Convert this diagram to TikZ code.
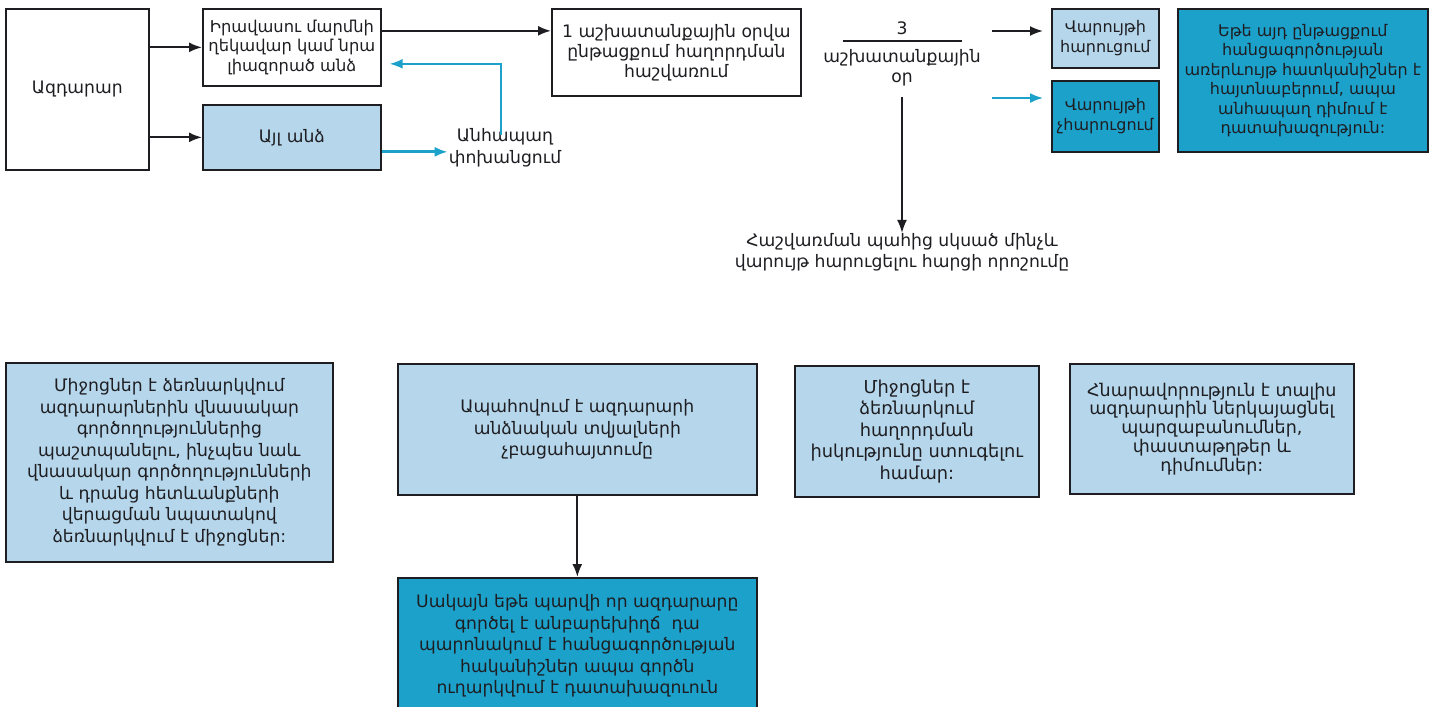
\documentclass[tikz,border=0pt]{standalone}
\usepackage{fontspec}
\setmainfont{DejaVu Sans}
\usetikzlibrary{arrows.meta,calc}
\definecolor{lblue}{HTML}{B6D7EB}
\definecolor{dblue}{HTML}{1CA1CB}
\definecolor{ink}{HTML}{1E1E22}
\definecolor{aqua}{HTML}{1CA1CB}
\begin{document}
\begin{tikzpicture}[x=1pt,y=-1pt,
  every node/.style={font=\fontsize{17.2}{21.5}\selectfont, text=ink, inner sep=0pt},
  box/.style={draw=ink, line width=1.7pt, align=center, anchor=north west},
  wbox/.style={box, fill=white},
  lbox/.style={box, fill=lblue},
  dbox/.style={box, fill=dblue},
  arr/.style={-{Latex[length=13pt,width=10pt]}, line width=2pt, draw=ink},
  barr/.style={-{Latex[length=13pt,width=10pt]}, line width=1.8pt, draw=aqua},
  lbl/.style={align=center}
]
\useasboundingbox (0,0) rectangle (1436,707);
\fill[white] (0,0) rectangle (1436,707);

% top row
\node[wbox, minimum width=143pt, minimum height=161pt] (azd) at (5,8) {Ազդարար};
\node[wbox, minimum width=178pt, minimum height=77pt, font=\fontsize{16.3}{19.5}\selectfont] (head) at (202,8) {Իրավասու մարմնի\\ղեկավար կամ նրա\\լիազորած անձ};
\node[lbox, minimum width=178pt, minimum height=65pt] (other) at (202,104) {Այլ անձ};
\node[lbl] (transfer) at (505,148) {Անհապաղ\\փոխանցում};
\node[wbox, minimum width=249pt, minimum height=87pt, font=\fontsize{17.2}{20}\selectfont] (reg) at (551,8) {1 աշխատանքային օրվա\\ընթացքում հաղորդման\\հաշվառում};

\node[lbl] (three) at (902,28) {3};
\draw[ink, line width=2pt] (843,41) -- (962,41);
\node[lbl, font=\fontsize{17.2}{20}\selectfont] (days) at (902,68) {աշխատանքային\\օր};
\coordinate (cblack) at (992,31);
\coordinate (cblue) at (992,98);

\node[lbox, minimum width=107pt, minimum height=59pt, font=\fontsize{16}{20}\selectfont] (init) at (1051,8) {Վարույթի\\հարուցում};
\node[dbox, minimum width=107pt, minimum height=71pt, font=\fontsize{16}{20}\selectfont] (noinit) at (1051,80) {Վարույթի\\չհարուցում};
\node[dbox, minimum width=250pt, minimum height=143pt, font=\fontsize{16}{19.5}\selectfont] (pros) at (1177,8) {Եթե այդ ընթացքում\\հանցագործության\\առերևույթ հատկանիշներ է\\հայտնաբերում, ապա\\անհապաղ դիմում է\\դատախազություն:};

\node[lbl, font=\fontsize{17.2}{21}\selectfont] (decide) at (902,252) {Հաշվառման պահից սկսած մինչև\\վարույթ հարուցելու հարցի որոշումը};

% bottom row
\node[lbox, minimum width=327pt, minimum height=199pt] (prot) at (5,362) {Միջոցներ է ձեռնարկվում\\ազդարարներին վնասակար\\գործողություններից\\պաշտպանելու, ինչպես նաև\\վնասակար գործողությունների\\և դրանց հետևանքների\\վերացման նպատակով\\ձեռնարկվում է միջոցներ:};
\node[lbox, minimum width=359pt, minimum height=131pt] (conf) at (397,363) {Ապահովում է ազդարարի\\անձնական տվյալների\\չբացահայտումը};
\node[dbox, minimum width=359pt, minimum height=136pt] (bad) at (397,577) {Սակայն եթե պարվի որ ազդարարը\\գործել է անբարեխիղճ \ դա\\պարոնակում է հանցագործության\\հականիշներ ապա գործն\\ուղարկվում է դատախազուուն};
\node[lbox, minimum width=244pt, minimum height=131pt, font=\fontsize{17.8}{21.5}\selectfont] (verify) at (794,365) {Միջոցներ է\\ձեռնարկում\\հաղորդման\\իսկությունը ստուգելու\\համար:};
\node[lbox, minimum width=284pt, minimum height=130pt, font=\fontsize{17.5}{18.8}\selectfont] (explain) at (1069,363) {Հնարավորություն է տալիս\\ազդարարին ներկայացնել\\պարզաբանումներ,\\փաստաթղթեր և\\դիմումներ:};

% connector anchor points
\coordinate (headout) at ([yshift=16.5pt]head.east);
\coordinate (headin) at ([xshift=8pt,yshift=-16.5pt]head.east);
\coordinate (otherout) at ([yshift=-14.5pt]other.east);
\coordinate (transup) at ([xshift=-4pt,yshift=-6pt]transfer.north);

% connectors
\draw[arr] (azd.east |- head.west) -- (head.west);
\draw[arr] (azd.east |- other.west) -- (other.west);
\draw[arr] (headout) -- (reg.west |- headout);
\draw[barr, line width=3pt] (otherout) -- ++(66,0);
\draw[barr] (transup) |- (headin);
\draw[arr] (cblack) -- ++(51,0);
\draw[barr] (cblue) -- ++(51,0);
\draw[arr] ([yshift=-10pt]days.south) -- (decide.north);
\draw[arr] (conf.south) -- (bad.north);
\end{tikzpicture}
\end{document}
